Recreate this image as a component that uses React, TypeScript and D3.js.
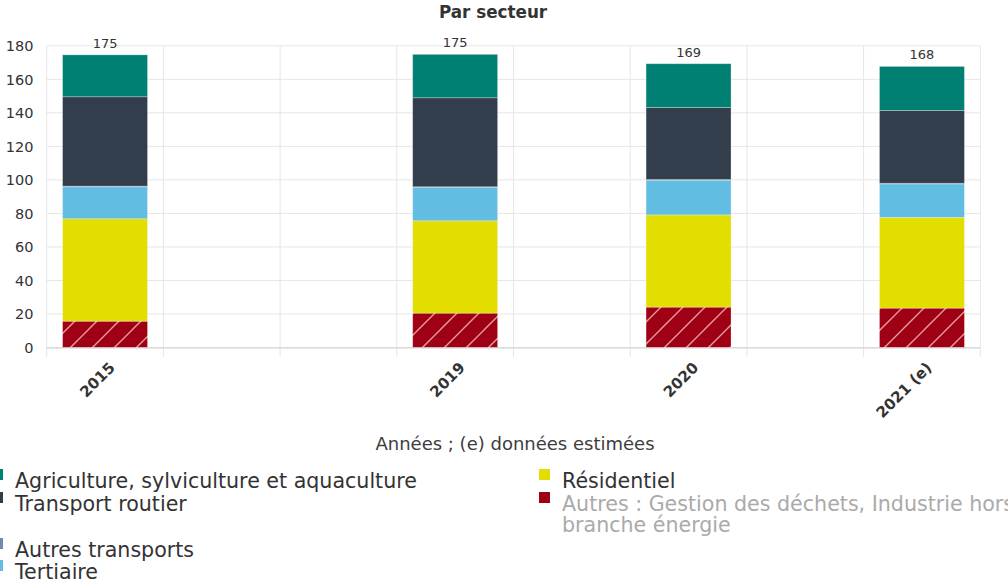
import React from 'react';
import * as d3 from 'd3';

const slots = ['2015', 'gap1', 'gap2', '2019', 'gap3', '2020', 'gap4', '2021 (e)'];
const years = ['2015', '2019', '2020', '2021 (e)'];
const autres = [15.7, 20.5, 24.1, 23.5];
const residentiel = [61.1, 55.1, 55.0, 54.1];
const tertiaire = [19.1, 19.9, 20.7, 20.0];
const autresTransports = [0.4, 0.4, 0.4, 0.4];
const transportRoutier = [53.3, 53.1, 43.0, 43.4];
const agriculture = [25.0, 25.9, 26.1, 26.3];
const totals = [175, 175, 169, 168];
const yTicks = [0, 20, 40, 60, 80, 100, 120, 140, 160, 180];

const seriesKeys = ['autres', 'residentiel', 'tertiaire', 'autresTransports', 'transportRoutier', 'agriculture'];
const seriesColors: Record<string, string> = {
  autres: '#a00013',
  residentiel: '#e2de00',
  tertiaire: '#62bde3',
  autresTransports: '#7288b0',
  transportRoutier: '#323e4b',
  agriculture: '#007f73',
};

const legendItems = [
  { key: 'agriculture', label: ['Agriculture, sylviculture et aquaculture'], col: 0, row: 0, grey: false },
  { key: 'residentiel', label: ['Résidentiel'], col: 1, row: 0, grey: false },
  { key: 'transportRoutier', label: ['Transport routier'], col: 0, row: 1, grey: false },
  { key: 'autres', label: ['Autres : Gestion des déchets, Industrie hors', 'branche énergie'], col: 1, row: 1, grey: true },
  { key: 'autresTransports', label: ['Autres transports'], col: 0, row: 2, grey: false },
  { key: 'tertiaire', label: ['Tertiaire'], col: 0, row: 3, grey: false },
];

const W = 1008;
const H = 586;
const FONT = '"DejaVu Sans", sans-serif';

export default function App() {
  const x = d3.scaleBand<string>().domain(slots).range([46.7, 980.3]).padding(0);
  const y = d3.scaleLinear().domain([0, 180]).range([347.5, 45.8]);
  const barW = x.bandwidth() * 0.728;

  const rows = years.map((yr, i) => ({
    year: yr,
    autres: autres[i],
    residentiel: residentiel[i],
    tertiaire: tertiaire[i],
    autresTransports: autresTransports[i],
    transportRoutier: transportRoutier[i],
    agriculture: agriculture[i],
  }));
  const stack = d3.stack<any>().keys(seriesKeys);
  const stacked = stack(rows);

  const gridXs = d3.range(slots.length + 1).map((i) => 46.7 + i * x.step());

  const rowBaselines = [488, 511, 557, 579];
  const colX = [15, 562];

  return (
    <svg width={W} height={H} style={{ position: 'absolute', left: 0, top: 0, background: '#fff' }}>
      <defs>
        <pattern id="hatch" patternUnits="userSpaceOnUse" width="22" height="22">
          <rect width="22" height="22" fill="#a00013" />
          <path d="M-2,24 L24,-2 M-13,13 L13,-13 M9,35 L35,9" stroke="#ffd0d6" strokeOpacity="0.75" strokeWidth="1.4" />
        </pattern>
      </defs>
      <text x={493} y={18} textAnchor="middle" fontFamily={FONT} fontWeight="bold" fontSize={16.8} fill="#333">
        Par secteur
      </text>
      {/* horizontal grid */}
      {yTicks.map((t) => (
        <line key={'h' + t} x1={46.7} x2={980.3} y1={y(t)} y2={y(t)} stroke="#e6e6e6" strokeWidth={1} />
      ))}
      {/* vertical grid */}
      {gridXs.map((gx, i) => (
        <line key={'v' + i} x1={gx} x2={gx} y1={45.8} y2={357} stroke="#e6e6e6" strokeWidth={1} />
      ))}
      {/* y tick labels */}
      {yTicks.map((t) => (
        <text key={'yl' + t} x={33.5} y={y(t) + 5.5} textAnchor="end" fontFamily={FONT} fontSize={14.5} fill="#333">
          {t}
        </text>
      ))}
      {/* bars */}
      {stacked.map((s) => (
        <g key={s.key}>
          {s.map((d, i) => {
            const cx = (x(years[i]) as number) + x.bandwidth() / 2;
            const fill = s.key === 'autres' ? 'url(#hatch)' : seriesColors[s.key];
            return (
              <rect
                key={i}
                x={cx - barW / 2}
                y={y(d[1])}
                width={barW}
                height={Math.max(0, y(d[0]) - y(d[1]))}
                fill={fill}
                stroke="#ffffff"
                strokeOpacity={0.35}
                strokeWidth={0.8}
              />
            );
          })}
        </g>
      ))}
      {/* axis line */}
      <line x1={46.7} x2={980.3} y1={y(0) + 0.5} y2={y(0) + 0.5} stroke="#d0d0d0" strokeWidth={1.2} />
      {/* totals */}
      {years.map((yr, i) => {
        const cx = (x(yr) as number) + x.bandwidth() / 2;
        const top = y(d3.sum([autres[i], residentiel[i], tertiaire[i], autresTransports[i], transportRoutier[i], agriculture[i]]));
        return (
          <text key={'t' + yr} x={cx} y={top - 7} textAnchor="middle" fontFamily={FONT} fontSize={13} fill="#333">
            {totals[i]}
          </text>
        );
      })}
      {/* x labels */}
      {years.map((yr) => {
        const cx = (x(yr) as number) + x.bandwidth() / 2;
        return (
          <text
            key={'xl' + yr}
            transform={`translate(${cx + 7},${365}) rotate(-45)`}
            textAnchor="end"
            fontFamily={FONT}
            fontWeight="bold"
            fontSize={15}
            fill="#333"
            dy="0.35em"
          >
            {yr}
          </text>
        );
      })}
      <text x={515} y={450} textAnchor="middle" fontFamily={FONT} fontSize={18} fill="#3d3d3d">
        Années ; (e) données estimées
      </text>
      {/* legend */}
      {legendItems.map((it) => {
        const bx = colX[it.col];
        const base = rowBaselines[it.row];
        return (
          <g key={'lg' + it.key}>
            <rect x={bx - 23} y={base - 19} width={11} height={11} fill={seriesColors[it.key]} />
            <text fontFamily={FONT} fontSize={20.6} fill={it.grey ? '#aaaaaa' : '#333333'}>
              {it.label.map((ln, j) => (
                <tspan key={j} x={bx} y={base + j * 21}>
                  {ln}
                </tspan>
              ))}
            </text>
          </g>
        );
      })}
    </svg>
  );
}
